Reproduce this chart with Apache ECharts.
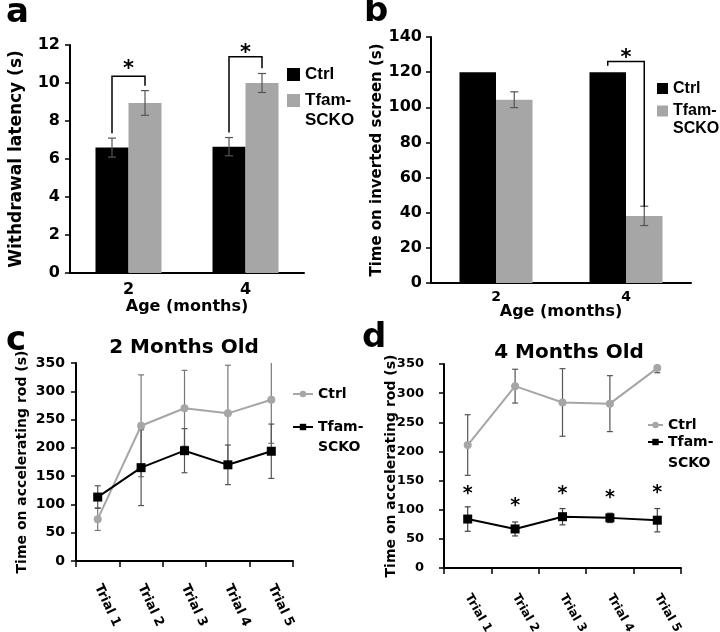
<!DOCTYPE html>
<html><head><meta charset="utf-8">
<script src="https://cdn.jsdelivr.net/npm/echarts@6/dist/echarts.min.js"></script>
<style>html,body{margin:0;padding:0;background:#fff}#c{width:720px;height:632px}</style>
</head><body><div id="c"></div>
<script>
// ---- data ----
const ageCats = ['2', '4'];
const ctrlA = [6.6, 6.65];
const ctrlAErr = [0.5, 0.48];
const tfamA = [8.95, 10.0];
const tfamAErr = [0.65, 0.5];
const ctrlB = [120, 120];
const ctrlBErr = [0, 0];
const tfamB = [104.3, 38.2];
const tfamBErr = [4.5, 5.5];
const trials = ['Trial 1', 'Trial 2', 'Trial 3', 'Trial 4', 'Trial 5'];
const ctrlC = [74, 239, 270, 261, 285];
const ctrlCErr = [20, 90, 67, 85, 77];
const tfamC = [113, 165, 195, 170, 194];
const tfamCErr = [20, 67, 39, 35, 48];
const ctrlD = [211, 312, 284, 282, 343];
const ctrlDErr = [52, 29, 58, 48, 8];
const tfamD = [84, 67, 88, 86, 82];
const tfamDErr = [21, 12, 14, 8, 20];
const starsD = [133, 113, 133, 127, 135];
// significance brackets: [category index, left foot, top, right foot, star]
const sigA = [[0, 7.35, 10.35, 9.85, 10.95], [1, 7.4, 11.38, 10.77, 11.8]];
const sigB = [[1, 123.7, 126, 43.4, 130.7]];

// ---- styling ----
const FONT = 'DejaVu Sans';
const LFONT = 'Liberation Sans';
const GRAY = '#a6a6a6', ERR = '#555';
const bold = (s, f) => ({fontFamily: f || FONT, fontWeight: 'bold', fontSize: s, color: '#000'});

function errSeries(xi, vals, errs, offset, capW, color) {
  return {
    type: 'custom', xAxisIndex: xi, yAxisIndex: xi, z: 3, silent: true, clip: true,
    data: vals.map((v, i) => [i, v, errs[i]]),
    encode: {x: 0, y: 1},
    renderItem(params, api) {
      const i = api.value(0), v = api.value(1), e = api.value(2);
      if (!e) return null;
      const hi = api.coord([i, v + e]), lo = api.coord([i, v - e]);
      const x = hi[0] + offset;
      const st = {stroke: color, lineWidth: 1.2};
      return {type: 'group', children: [
        {type: 'line', shape: {x1: x, y1: hi[1], x2: x, y2: lo[1]}, style: st},
        {type: 'line', shape: {x1: x - capW / 2, y1: hi[1], x2: x + capW / 2, y2: hi[1]}, style: st},
        {type: 'line', shape: {x1: x - capW / 2, y1: lo[1], x2: x + capW / 2, y2: lo[1]}, style: st}
      ]};
    }
  };
}
function sigSeries(xi, rows, half) {
  return {
    type: 'custom', xAxisIndex: xi, yAxisIndex: xi, z: 4, silent: true,
    data: rows, encode: {x: 0, y: 2},
    renderItem(params, api) {
      const i = api.value(0);
      const pL = api.coord([i, api.value(1)]), pT = api.coord([i, api.value(2)]);
      const pR = api.coord([i, api.value(3)]), pS = api.coord([i, api.value(4)]);
      const xl = pT[0] - half, xr = pT[0] + half;
      return {type: 'group', children: [
        {type: 'polyline', shape: {points: [[xl, pL[1]], [xl, pT[1]], [xr, pT[1]], [xr, pR[1]]]},
         style: {stroke: '#000', lineWidth: 1.5, fill: null}},
        {type: 'text', x: (xl + xr) / 2, y: pS[1] + 5,
         style: {text: '*', font: 'bold 21px ' + FONT, align: 'center', verticalAlign: 'middle', fill: '#000'}}
      ]};
    }
  };
}
function starSeries(xi, vals) {
  return {
    type: 'custom', xAxisIndex: xi, yAxisIndex: xi, z: 4, silent: true,
    data: vals.map((v, i) => [i, v]), encode: {x: 0, y: 1},
    renderItem(params, api) {
      const p = api.coord([api.value(0), api.value(1)]);
      return {type: 'text', x: p[0], y: p[1] + 4,
        style: {text: '*', font: 'bold 19px ' + FONT, align: 'center', verticalAlign: 'middle', fill: '#000'}};
    }
  };
}
// leading empty line keeps the first text line level with the legend icon
const fmt = (n) => { const s = n.split('|')[0]; return s === 'Tfam-SCKO' ? '\nTfam-\nSCKO' : s; };
function legendPair(suffix, left, c1, c2, iw, ih, fs, L, icon, font) {
  const base = {left: left, orient: 'vertical', padding: 0, itemWidth: iw, itemHeight: ih,
    selectedMode: false, formatter: fmt};
  if (icon) base.icon = icon;
  return [
    Object.assign({}, base, {top: c1 - L / 2, data: ['Ctrl|' + suffix],
      textStyle: Object.assign(bold(fs, font), {lineHeight: L})}),
    Object.assign({}, base, {top: c2 - 1.5 * L, data: ['Tfam-SCKO|' + suffix],
      textStyle: Object.assign(bold(fs, font), {lineHeight: L})})
  ];
}
function yAx(gi, max, interval, name, nameGap, fs, nfs, margin) {
  return {
    gridIndex: gi, type: 'value', min: 0, max: max, interval: interval,
    name: name, nameLocation: 'middle', nameGap: nameGap, nameTextStyle: bold(nfs),
    nameMoveOverlap: false,
    axisLine: {show: true, lineStyle: {color: '#000', width: 2}},
    axisTick: {show: true, length: 5, lineStyle: {color: '#000', width: 1.5}},
    axisLabel: Object.assign(bold(fs), {margin: margin}),
    splitLine: {show: false}
  };
}
function xBar(gi, nameGap, fs, margin) {
  return {
    gridIndex: gi, type: 'category', data: ageCats,
    name: 'Age (months)', nameLocation: 'middle', nameGap: nameGap, nameTextStyle: bold(16),
    nameMoveOverlap: false,
    axisLine: {lineStyle: {color: '#000', width: 2}},
    axisTick: {show: false},
    axisLabel: Object.assign(bold(fs), {margin: margin})
  };
}
function xTrial(gi, fs, rot, margin) {
  return {
    gridIndex: gi, type: 'category', data: trials,
    axisLine: {lineStyle: {color: '#000', width: 2}},
    axisTick: {show: true, length: 6, lineStyle: {color: '#000', width: 1.5}},
    axisLabel: Object.assign(bold(fs), {rotate: rot, margin: margin})
  };
}
const lineCtrl = (gi, data, sfx) => ({
  name: 'Ctrl|' + sfx, type: 'line', xAxisIndex: gi, yAxisIndex: gi, data: data, z: 5,
  symbol: 'circle', symbolSize: 8, color: GRAY,
  lineStyle: {color: GRAY, width: 2}, itemStyle: {color: GRAY}
});
const lineTfam = (gi, data, sfx) => ({
  name: 'Tfam-SCKO|' + sfx, type: 'line', xAxisIndex: gi, yAxisIndex: gi, data: data, z: 5,
  symbol: 'rect', symbolSize: 9, color: '#000',
  lineStyle: {color: '#000', width: 2}, itemStyle: {color: '#000'}
});

const option = {
  animation: false,
  backgroundColor: '#fff',
  grid: [
    {left: 70, top: 45, width: 234, height: 228, outerBoundsMode: 'none'},
    {left: 431, top: 37, width: 260, height: 246, outerBoundsMode: 'none'},
    {left: 76, top: 363, width: 217, height: 198, outerBoundsMode: 'none'},
    {left: 444, top: 364, width: 237, height: 204, outerBoundsMode: 'none'}
  ],
  xAxis: [xBar(0, 26, 16, 9), xBar(1, 21, 14, 7), xTrial(2, 13, -65, 24), xTrial(3, 12, -60, 27)],
  yAxis: [
    yAx(0, 12, 2, 'Withdrawal latency (s)', 45, 16, 17, 10),
    yAx(1, 140, 20, 'Time on inverted screen (s)', 46, 16, 15, 9),
    yAx(2, 350, 50, 'Time on accelerating rod (s)', 47, 14, 14, 11),
    yAx(3, 350, 50, 'Time on accelerating rod (s)', 46, 13, 14, 20)
  ],
  legend: [].concat(
    legendPair('a', 287, 74.5, 100.5, 13, 13, 17, 20, 'rect', LFONT),
    legendPair('b', 657, 88.5, 111, 11, 11, 16, 18, 'rect', LFONT),
    legendPair('c', 292, 394, 427, 20, 8, 14, 20),
    legendPair('d', 647, 425, 442, 15, 8, 14, 21)
  ),
  graphic: [
    {type: 'text', left: 6, top: -4, style: {text: 'a', font: 'bold 34px ' + FONT, fill: '#000'}},
    {type: 'text', left: 364, top: -5, style: {text: 'b', font: 'bold 34px ' + FONT, fill: '#000'}},
    {type: 'text', left: 6, top: 324, style: {text: 'c', font: 'bold 34px ' + FONT, fill: '#000'}},
    {type: 'text', left: 362, top: 321, style: {text: 'd', font: 'bold 34px ' + FONT, fill: '#000'}},
    {type: 'text', x: 184, y: 348, style: {text: '2 Months Old', font: 'bold 20px ' + FONT, fill: '#000', align: 'center', verticalAlign: 'middle'}},
    {type: 'text', x: 569, y: 353, style: {text: '4 Months Old', font: 'bold 20px ' + FONT, fill: '#000', align: 'center', verticalAlign: 'middle'}}
  ],
  series: [
    {name: 'Ctrl|a', type: 'bar', xAxisIndex: 0, yAxisIndex: 0, data: ctrlA, barWidth: 33, barGap: '0%', color: '#000', itemStyle: {color: '#000'}},
    {name: 'Tfam-SCKO|a', type: 'bar', xAxisIndex: 0, yAxisIndex: 0, data: tfamA, barWidth: 33, barGap: '0%', color: GRAY, itemStyle: {color: GRAY}},
    errSeries(0, ctrlA, ctrlAErr, -16.5, 8, ERR),
    errSeries(0, tfamA, tfamAErr, 16.5, 8, ERR),
    sigSeries(0, sigA, 16.5),

    {name: 'Ctrl|b', type: 'bar', xAxisIndex: 1, yAxisIndex: 1, data: ctrlB, barWidth: 36.5, barGap: '0%', color: '#000', itemStyle: {color: '#000'}},
    {name: 'Tfam-SCKO|b', type: 'bar', xAxisIndex: 1, yAxisIndex: 1, data: tfamB, barWidth: 36.5, barGap: '0%', color: GRAY, itemStyle: {color: GRAY}},
    errSeries(1, ctrlB, ctrlBErr, -18.25, 8, ERR),
    errSeries(1, tfamB, tfamBErr, 18.25, 8, ERR),
    sigSeries(1, sigB, 18.25),

    lineCtrl(2, ctrlC, 'c'),
    lineTfam(2, tfamC, 'c'),
    errSeries(2, ctrlC, ctrlCErr, 0, 6, '#777'),
    errSeries(2, tfamC, tfamCErr, 0, 6, '#555'),

    lineCtrl(3, ctrlD, 'd'),
    lineTfam(3, tfamD, 'd'),
    errSeries(3, ctrlD, ctrlDErr, 0, 6, '#555'),
    errSeries(3, tfamD, tfamDErr, 0, 6, '#444'),
    starSeries(3, starsD)
  ]
};
const chart = echarts.init(document.getElementById('c'), null, {renderer: 'canvas'});
chart.setOption(option);
</script>
</body></html>
